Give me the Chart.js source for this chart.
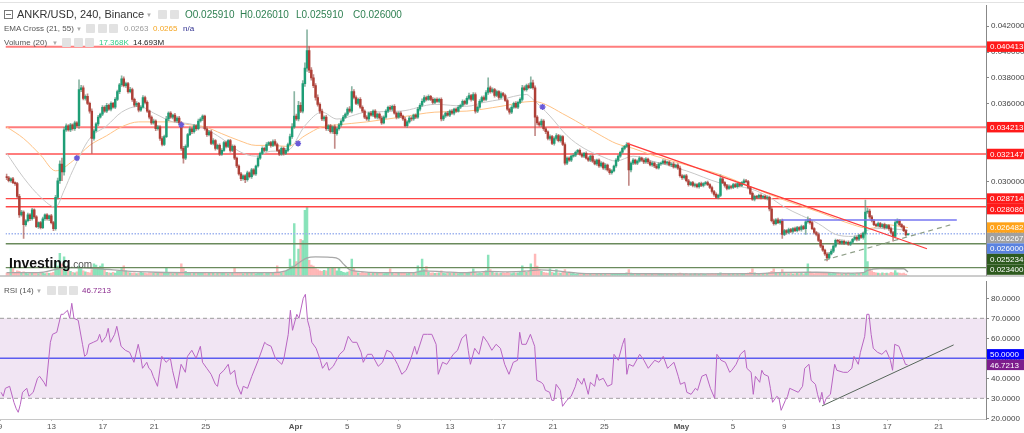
<!DOCTYPE html>
<html>
<head>
<meta charset="utf-8">
<script src="https://cdn.jsdelivr.net/npm/chart.js@4.4.0/dist/chart.umd.min.js"></script>
<style>
  body { margin: 0; background: #fff; width: 1024px; height: 433px; overflow: hidden; position: relative; font-family: "Liberation Sans", Arial, sans-serif; }
  canvas { position: absolute; left: 0; }
  #main { top: 0; }
  #rsi { top: 281px; }
  .t { position: absolute; white-space: nowrap; line-height: 1; z-index: 2; }
  .ic { position: absolute; width: 9px; height: 9px; background: #e2e2e2; border-radius: 1px; z-index: 2; }
  .car { position: absolute; font-size: 6px; color: #aaa; z-index: 2; line-height: 1; }
</style>
</head>
<body>
<canvas id="main" width="1024" height="281"></canvas>
<canvas id="rsi" width="1024" height="152"></canvas>

<!-- header lines -->
<div class="t" style="left:4px;top:10px;width:7px;height:7px;border:1px solid #777;"><div style="position:absolute;left:1px;top:3px;width:5px;height:1px;background:#777"></div></div>
<div class="t" style="left:17px;top:9px;font-size:11px;color:#333">ANKR/USD, 240, Binance</div>
<div class="car" style="left:146px;top:12px">▼</div>
<div class="ic" style="left:158px;top:10px"></div>
<div class="ic" style="left:170px;top:10px"></div>
<div class="t" style="left:185px;top:9.5px;font-size:10px;color:#2f8052">O0.025910</div>
<div class="t" style="left:240px;top:9.5px;font-size:10px;color:#2f8052">H0.026010</div>
<div class="t" style="left:296px;top:9.5px;font-size:10px;color:#2f8052">L0.025910</div>
<div class="t" style="left:353px;top:9.5px;font-size:10px;color:#2f8052">C0.026000</div>

<div class="t" style="left:4px;top:25px;font-size:8px;color:#555">EMA Cross (21, 55)</div>
<div class="car" style="left:76px;top:26px">▼</div>
<div class="ic" style="left:86px;top:24px"></div>
<div class="ic" style="left:97.5px;top:24px"></div>
<div class="ic" style="left:109px;top:24px"></div>
<div class="t" style="left:124px;top:25px;font-size:8px;color:#9a9a9a">0.0263</div>
<div class="t" style="left:153px;top:25px;font-size:8px;color:#f5a623">0.0265</div>
<div class="t" style="left:183px;top:25px;font-size:8px;color:#2e2e8f">n/a</div>

<div class="t" style="left:4px;top:38.5px;font-size:8px;color:#555">Volume (20)</div>
<div class="car" style="left:52px;top:39.5px">▼</div>
<div class="ic" style="left:62px;top:37.5px"></div>
<div class="ic" style="left:73.5px;top:37.5px"></div>
<div class="ic" style="left:85px;top:37.5px"></div>
<div class="t" style="left:99px;top:38.5px;font-size:8px;color:#33cc88">17.368K</div>
<div class="t" style="left:133px;top:38.5px;font-size:8px;color:#222">14.693M</div>

<div class="t" style="left:9px;top:256px;font-size:14px;font-weight:bold;color:#111">Investing<span style="font-size:10px;font-weight:normal;color:#555">.com</span></div>

<div class="t" style="left:4px;top:286.5px;font-size:8px;color:#555">RSI (14)</div>
<div class="car" style="left:36px;top:287.5px">▼</div>
<div class="ic" style="left:47px;top:285.5px"></div>
<div class="ic" style="left:58px;top:285.5px"></div>
<div class="ic" style="left:69px;top:285.5px"></div>
<div class="t" style="left:82px;top:286.5px;font-size:8px;color:#8b2c8f">46.7213</div>

<script>
// ---- data (prices in units of 0.00001) ----
const firstOpen = 3040;

const closes = [
  3032,3009,3024,2994,2987,2889,2746,2768,2671,2701,2746,2716,
  2784,2731,2656,2686,2648,2716,2746,2716,2738,2686,2640,2881,
  3009,3138,3077,3401,3432,3401,3439,3409,3454,3432,3710,3725,
  3643,3658,3605,3545,3334,3394,3447,3499,3522,3575,3545,3590,
  3560,3605,3575,3635,3695,3748,3793,3741,3756,3695,3710,3635,
  3590,3605,3552,3575,3650,3612,3545,3499,3454,3469,3409,3424,
  3334,3288,3349,3484,3530,3499,3514,3469,3492,3454,3258,3183,
  3273,3364,3409,3386,3432,3409,3469,3484,3507,3409,3364,3386,
  3296,3318,3258,3281,3213,3243,3303,3273,3318,3243,3273,3183,
  3122,3062,3024,3047,3017,3070,3040,3092,3062,3122,3183,3220,
  3258,3243,3288,3303,3281,3311,3288,3243,3213,3258,3220,3243,
  3288,3349,3424,3507,3484,3590,3545,3756,3876,4012,3861,3801,
  3741,3650,3597,3545,3484,3499,3409,3432,3386,3424,3371,3409,
  3439,3469,3499,3522,3560,3545,3695,3650,3605,3635,3575,3545,
  3499,3484,3530,3514,3545,3499,3522,3492,3454,3499,3545,3575,
  3560,3582,3530,3499,3530,3507,3484,3432,3462,3492,3484,3514,
  3499,3560,3590,3620,3650,3635,3658,3635,3612,3635,3620,3635,
  3484,3507,3530,3514,3545,3530,3560,3545,3575,3590,3620,3605,
  3643,3665,3635,3673,3545,3575,3620,3650,3635,3688,3725,3695,
  3710,3665,3695,3650,3680,3665,3627,3560,3537,3575,3605,3575,
  3612,3635,3725,3710,3741,3725,3763,3725,3499,3454,3439,3469,
  3409,3386,3334,3349,3296,3334,3356,3318,3349,3288,3145,3183,
  3168,3198,3205,3228,3243,3213,3198,3220,3183,3168,3198,3160,
  3138,3168,3122,3145,3107,3130,3092,3070,3085,3122,3168,3198,
  3228,3258,3273,3288,3092,3145,3168,3145,3160,3183,3168,3153,
  3175,3153,3130,3145,3122,3107,3138,3145,3160,3145,3153,3130,
  3138,3115,3130,3107,3047,3032,3047,3009,2979,2994,2972,2979,
  2964,2987,2972,2987,2994,2979,2957,2926,2904,2881,2896,3024,
  2994,2972,2949,2964,2957,2979,2964,2987,2972,2994,3009,3002,
  2957,2911,2866,2889,2881,2896,2881,2889,2874,2881,2791,2701,
  2678,2708,2686,2701,2595,2625,2610,2633,2618,2640,2625,2648,
  2633,2656,2640,2693,2708,2686,2640,2610,2595,2550,2505,2475,
  2445,2415,2445,2467,2505,2550,2543,2528,2543,2528,2535,2520,
  2535,2558,2573,2558,2588,2573,2603,2768,2776,2731,2701,2671,
  2663,2678,2656,2671,2648,2663,2640,2610,2580,2686,2701,2671,
  2656,2625,2591,2600
];

// upper / lower shadow lengths per candle
const wickHi = [
  20,10,8,12,6,10,15,12,10,8,14,10,
  12,8,10,6,10,12,8,10,6,12,10,15,
  20,25,45,20,15,10,12,8,14,10,76,18,
  15,12,20,10,18,12,10,14,8,12,10,15,
  10,12,8,15,12,10,23,15,12,10,18,12,
  10,14,8,12,15,10,12,8,10,14,8,12,
  10,15,12,20,10,12,8,14,10,12,10,15,
  12,10,14,8,12,10,15,12,10,8,14,10,
  12,15,8,10,12,14,10,12,8,10,12,10,
  8,10,12,8,10,14,8,12,10,8,15,10,
  12,10,14,8,10,12,15,10,8,12,10,14,
  10,20,25,188,15,30,20,25,40,158,30,20,
  25,15,20,12,15,10,14,10,12,8,15,10,
  12,10,14,10,12,20,38,15,12,10,14,10,
  10,12,8,14,10,12,8,10,14,10,12,8,
  12,10,14,8,10,12,8,14,10,12,10,8,
  10,14,12,20,15,10,12,8,15,10,12,10,
  12,10,8,14,10,12,8,10,14,10,12,10,
  14,18,10,15,12,10,14,10,12,15,76,12,
  14,10,12,8,14,10,12,10,8,12,10,14,
  10,12,18,14,12,15,45,20,15,12,10,14,
  10,12,8,14,10,12,15,10,12,8,12,10,
  10,8,12,10,8,12,10,8,12,10,8,10,
  12,8,10,12,8,10,8,12,10,8,12,10,
  10,12,8,15,12,10,12,8,10,12,8,10,
  12,8,10,12,8,14,10,8,12,10,8,10,
  10,12,8,10,14,10,8,12,10,8,10,12,
  8,10,12,8,10,12,8,10,8,12,10,31,
  12,8,10,12,8,10,12,8,10,8,12,10,
  10,8,12,10,8,10,12,8,10,12,10,14,
  12,10,14,10,12,10,8,12,10,8,12,10,
  8,12,10,15,23,12,10,8,10,12,8,10,
  8,10,12,15,12,10,8,12,10,8,10,12,
  10,8,12,10,8,12,10,91,25,15,12,10,
  8,12,10,8,12,10,8,12,10,20,15,10,
  8,10,8,1
];
const wickLo = [
  15,10,12,8,14,12,20,10,106,12,10,14,
  10,12,8,14,10,8,12,10,14,10,15,12,
  15,20,68,25,12,10,14,10,12,8,20,15,
  12,14,10,15,114,12,10,14,8,12,10,12,
  10,14,8,12,10,15,12,10,14,12,10,15,
  12,10,14,10,8,12,10,14,12,10,14,10,
  15,12,10,8,12,10,14,8,12,10,15,38,
  12,10,8,14,10,12,8,10,12,10,14,10,
  10,12,14,8,12,10,8,12,10,14,10,12,
  12,10,14,10,23,12,10,14,10,12,8,10,
  10,12,8,10,14,10,12,8,12,10,14,10,
  12,10,14,12,10,15,12,14,20,25,20,18,
  15,20,14,18,12,15,12,14,10,12,113,12,
  10,12,8,10,12,10,14,12,10,14,10,12,
  12,10,14,8,12,10,14,10,12,8,10,12,
  10,12,8,14,10,12,10,8,12,10,14,10,
  12,10,14,8,10,12,8,10,12,10,8,12,
  15,12,10,8,12,10,14,10,8,12,10,12,
  10,12,14,10,15,12,10,8,12,10,14,12,
  10,12,8,14,10,12,8,10,15,12,10,8,
  12,10,14,10,12,10,8,12,143,15,12,14,
  12,14,10,12,10,14,12,10,12,10,15,12,
  10,12,8,10,12,8,10,12,8,10,12,10,
  8,12,10,8,12,15,10,12,10,8,10,12,
  10,8,12,10,120,15,12,10,12,8,10,12,
  10,12,8,10,12,8,10,12,8,10,12,8,
  12,10,8,12,10,14,12,10,12,8,10,12,
  10,12,8,10,12,8,10,12,14,10,12,10,
  8,12,10,8,12,10,8,12,10,8,12,10,
  12,10,8,12,10,8,12,10,8,12,14,10,
  12,10,8,12,30,10,12,8,10,12,8,10,
  10,12,8,45,10,12,8,10,12,10,12,10,
  12,23,10,8,12,10,12,8,10,12,8,10,
  12,10,8,12,10,8,14,12,10,12,10,8,
  10,12,8,10,12,10,14,10,37,12,10,8,
  10,8,10,0
];

// volume per candle, millions
const volumes = [
  10,12,34,30,14,20,18,12,16,10,8,12,
  9,12,10,8,14,10,8,12,9,10,14,60,
  40,95,50,80,30,25,18,14,12,16,40,30,
  20,16,14,12,25,50,45,30,40,50,22,14,
  12,10,14,10,18,22,30,42,20,14,12,10,
  12,8,10,14,12,10,8,12,10,9,14,10,
  12,14,10,34,12,10,8,12,10,14,50,30,
  18,12,10,8,12,10,14,9,10,12,8,10,
  14,10,8,12,10,9,12,10,8,10,12,34,
  14,10,12,8,10,14,9,10,12,8,10,12,
  10,8,12,14,10,9,12,42,10,12,14,18,
  25,71,40,223,60,113,155,150,280,295,65,45,
  40,30,25,20,18,22,20,34,30,34,34,20,
  34,18,14,12,15,20,71,30,18,12,10,14,
  10,9,12,8,10,14,9,10,12,8,10,12,
  29,10,8,12,10,9,14,10,8,12,10,14,
  12,42,20,71,25,38,14,10,12,9,10,12,
  20,10,8,12,10,9,12,10,8,10,14,9,
  12,10,14,29,10,8,12,10,14,20,88,25,
  14,10,12,8,10,12,9,14,10,8,12,10,
  12,14,42,20,14,18,50,30,92,40,25,18,
  14,12,10,29,14,10,25,12,10,14,25,12,
  10,8,9,6,8,7,6,8,5,7,6,8,
  6,7,5,8,6,7,6,5,8,6,7,6,
  8,7,9,12,25,10,8,7,6,8,7,6,
  7,6,8,5,7,6,8,6,5,7,6,8,
  6,7,5,8,10,7,6,8,5,7,6,8,
  7,6,8,6,5,7,6,8,6,7,8,12,
  7,8,6,7,5,8,6,7,6,8,7,6,
  10,14,29,12,8,7,9,8,6,10,14,18,
  29,14,10,12,25,12,10,8,9,7,8,10,
  8,9,7,14,50,16,10,8,9,12,10,14,
  12,14,10,8,12,9,10,8,7,9,8,10,
  8,9,7,10,9,12,14,180,60,30,20,14,
  12,10,8,12,9,10,8,14,12,21,12,10,
  8,10,6,0.017
];

// volume MA(20): [candle, millions]
const volMaPoints = [
  [0,12],[15,12],[25,30],[30,34],[45,28],[55,20],[70,14],[90,12],[110,12],[125,12],
  [131,20],[135,40],[138,60],[141,76],[145,80],[152,78],[156,70],[158,50],[161,25],[165,18],
  [175,12],[190,12],[196,20],[205,16],[215,12],[226,18],[235,16],[245,20],[250,24],[258,20],
  [264,14],[272,8],[290,8],[320,7],[350,8],[365,13],[380,14],[395,10],[402,12],[404,22],
  [410,30],[421,29],[423,14.693]
];

// EMA lines: [candle, price*1e5]
const emaFastPoints = [
  [0,3221],[8,3032],[16,2882],[23,2806],[27,2934],[31,3085],[39,3334],[47,3432],[54,3537],[62,3582],
  [70,3522],[78,3462],[86,3447],[93,3409],[101,3334],[109,3236],[117,3198],[124,3236],[132,3243],[140,3432],
  [148,3537],[155,3484],[169,3537],[185,3545],[201,3597],[216,3582],[224,3612],[232,3635],[244,3673],[247,3635],
  [255,3507],[263,3356],[271,3258],[279,3198],[286,3160],[294,3198],[303,3160],[319,3085],[335,2990],[350,2942],
  [358,2882],[365,2806],[381,2678],[389,2596],[397,2580],[405,2633],[412,2641],[423,2627]
];
const emaSlowPoints = [
  [0,3424],[8,3334],[16,3206],[23,3085],[31,3160],[39,3281],[47,3356],[54,3424],[62,3462],[70,3462],
  [78,3462],[86,3439],[93,3424],[101,3371],[109,3319],[117,3281],[124,3281],[132,3273],[140,3356],[148,3424],
  [155,3439],[169,3462],[185,3499],[201,3537],[216,3545],[232,3582],[247,3620],[263,3507],[271,3432],[279,3356],
  [286,3296],[294,3258],[303,3206],[319,3130],[335,3055],[350,2957],[365,2859],[381,2769],[397,2671],[405,2641],
  [412,2671],[423,2648]
];

// EMA cross markers: [candle, price*1e5]
const crossPoints = [[33,3183],[82,3439],[136.8,3296],[251.5,3577]];

// RSI(14): [candle, value]
const rsiPoints = [
  [0,33],[1,31],[2,35],[4,36],[6,28],[7,25],[8,23],[9,27],[10,33],[12,35],[13,31],[15,33],[17,40],[18,41],
  [20,38],[21,36],[23,58],[24,62],[26,63],[28,72],[29,72],[31,74],[32,70],[33,77.5],[34,70],[36,69],[38,57],
  [39,51],[40,52],[41,57],[43,58],[45,59],[46,62],[47,58],[49,61],[50,65],[51,58],[53,62],[54,66],[56,56],
  [58,54],[60,53],[62,48],[64,57],[65,52],[66,45],[68,48],[69,45],[70,44],[71,41],[73,36],[75,51],[77,48],
  [79,50],[80,44],[82,35],[84,47],[86,43],[87,51],[89,54],[91,50],[93,56],[94,48],[96,45],[98,42],[100,37],
  [101,36],[102,42],[104,44],[106,47],[107,42],[109,44],[110,37],[112,32],[113,36],[115,35],[117,41],[120,49],
  [123,58],[124,57],[126,56],[128,50],[131,47],[132,50],[134,62],[135,74],[136,64],[138,72],[139,70],[141,80],
  [142,82],[143,69],[144,65],[145,58],[147,55],[149,49],[150,45],[152,48],[153,44],[155,46],[156,48],[158,52],
  [160,54],[162,61],[164,58],[166,58],[168,53],[169,48],[171,52],[173,52],[176,46],[178,48],[180,54],[182,53],
  [185,47],[187,42],[189,44],[191,49],[193,56],[194,52],[197,62],[199,62],[201,62],[203,57],[204,42],[206,48],
  [208,47],[211,52],[213,54],[215,60],[217,62],[218,54],[219,47],[221,55],[223,52],[225,61],[227,58],[229,54],
  [231,57],[233,55],[235,47],[237,42],[239,48],[241,49],[242,63],[243,57],[245,57],[247,62],[248,59],[249,56],
  [250,39],[252,38],[253,37],[254,34],[256,33],[257,29],[258,29],[259,37],[261,34],[262,26],[264,29],[266,31],
  [268,36],[269,40],[271,37],[272,40],[274,32],[275,38],[277,36],[278,42],[279,39],[281,40],[283,36],[285,37],
  [286,52],[288,49],[290,57],[291,60],[292,42],[293,47],[295,46],[298,52],[300,49],[302,45],[305,49],[307,48],
  [309,51],[311,45],[312,46],[314,48],[316,41],[317,37],[319,38],[320,33],[322,32],[324,35],[325,34],[327,41],
  [329,42],[331,35],[333,30],[334,52],[336,49],[338,48],[340,43],[341,44],[343,47],[345,52],[347,54],[348,45],
  [350,43],[351,32],[352,41],[354,38],[355,44],[356,42],[358,41],[359,35],[360,28],[362,31],[363,30],[364,24],
  [366,29],[367,31],[368,35],[370,34],[372,33],[374,36],[375,45],[377,47],[378,39],[380,37],[381,32],[382,28],
  [383,33],[384,27],[385,30],[387,32],[389,47],[390,44],[393,43],[395,43],[397,45],[398,51],[400,47],[401,53],
  [403,61],[404,72],[405,72],[406,62],[407,55],[409,53],[411,52],[412,53],[413,54],[415,49],[416,44],[417,57],
  [419,56],[420,53],[422,47],[423,46.7213]
];

// horizontal levels
const redLevelsSoft = [0.040413, 0.034213, 0.032147];
const redLevelsHard = [0.028714, 0.028086];
const greenLevels = [0.025234, 0.023400];
const lastPrice = 0.026000;
const emaSlowLast = 0.026482;
const emaFastLast = 0.026267;
const rsiLast = 46.7213;

// drawn lines: [candle, price]
const resistLine = [[291.2, 0.03296], [431.9, 0.02485]];
const supportLine = [[383.7, 0.02397], [442.8, 0.026685]];
const blueLine = [[363.5, 0.02706], [445.9, 0.02706]];
const rsiTrend = [[383.1, 26.2], [444.5, 56.7]];

// axis ticks
const priceTicks = [0.024, 0.026, 0.028, 0.030, 0.032, 0.034, 0.036, 0.038, 0.040, 0.042];
const rsiTicks = [20, 30, 40, 50, 60, 70, 80];
const tickDays = [0, 4, 8, 12, 16, 23, 27, 31, 35, 39, 43, 47, 53, 57, 61, 65, 69, 73];
const tickLabels = ['9', '13', '17', '21', '25', 'Apr', '5', '9', '13', '17', '21', '25', 'May', '5', '9', '13', '17', '21'];

// ---- chart ----
const FONT = '"Liberation Sans", Arial, sans-serif';
Chart.defaults.font.family = FONT;
Chart.defaults.animation = false;

const P = v => v / 1e5;
const X_MIN = -0.5, X_MAX = 459.6;
const AXIS_W = 38;

const opens = closes.map((c, i) => i === 0 ? firstOpen : closes[i - 1]);
const up = closes.map((c, i) => c >= opens[i]);

const bodyData = closes.map((c, i) => ({ x: i, y: [P(opens[i]), P(c)] }));
const wickData = closes.map((c, i) => ({
  x: i,
  y: [P(Math.min(opens[i], c) - (wickLo[i] || 0)), P(Math.max(opens[i], c) + (wickHi[i] || 0))]
}));
const volData = volumes.map((v, i) => ({ x: i, y: v }));

function hline(v, color, width, dash, order, axis) {
  return {
    type: 'line', data: [{ x: X_MIN, y: v }, { x: X_MAX, y: v }],
    borderColor: color, borderWidth: width, borderDash: dash || [],
    pointRadius: 0, order: order, yAxisID: axis || 'y'
  };
}
function pline(points, color, width, dash, order, conv, axis) {
  const f = conv || (v => v);
  return {
    type: 'line', data: points.map(p => ({ x: p[0], y: f(p[1]) })),
    borderColor: color, borderWidth: width, borderDash: dash || [],
    pointRadius: 0, order: order, yAxisID: axis || 'y',
    cubicInterpolationMode: 'monotone'
  };
}

function fixY(s) { s.width = AXIS_W; s.paddingTop = 0; s.paddingBottom = 0; }

function tagPlugin(id, tags, digits, dir, extra) {
  return {
    id: id,
    afterDraw(chart) {
      const { ctx, chartArea } = chart;
      const ys = chart.scales.y;
      const h = 10.5;
      if (extra) extra(chart);
      const items = tags.map(t => ({ ...t, py: ys.getPixelForValue(t.value) }));
      items.sort((a, b) => a.py - b.py);
      if (dir > 0) {
        for (let i = 1; i < items.length; i++) items[i].py = Math.max(items[i].py, items[i - 1].py + h);
      } else {
        for (let i = items.length - 2; i >= 0; i--) items[i].py = Math.min(items[i].py, items[i + 1].py - h);
      }
      ctx.save();
      ctx.font = '8px ' + FONT;
      ctx.textBaseline = 'middle';
      items.forEach(t => {
        ctx.fillStyle = t.color;
        ctx.fillRect(chartArea.right + 1, t.py - h / 2, chart.width - chartArea.right - 1, h);
        ctx.fillStyle = '#fff';
        ctx.fillText(t.value.toFixed(digits), chartArea.right + 4, t.py + 0.5);
      });
      ctx.restore();
    }
  };
}

const mainTags = [
  ...redLevelsSoft.map(v => ({ value: v, color: '#ff1a1a' })),
  ...redLevelsHard.map(v => ({ value: v, color: '#ff1a1a' })),
  { value: emaSlowLast, color: '#ffa31a' },
  { value: emaFastLast, color: '#a0a0a0' },
  { value: lastPrice, color: '#5a82e0' },
  ...greenLevels.map(v => ({ value: v, color: '#2d5a1e' }))
];

new Chart(document.getElementById('main'), {
  type: 'bar',
  data: {
    datasets: [
      pline(resistLine, '#ff3b3b', 1.2, [], 0),
      pline(supportLine, '#8f9f88', 1.2, [5, 4], 0),
      pline(blueLine, '#7676f2', 1.5, [], 0),
      {
        type: 'line', data: crossPoints.map(p => ({ x: p[0], y: P(p[1]) })), showLine: false,
        pointStyle: 'star', pointRadius: 3, borderColor: '#6a5ad8', backgroundColor: '#6a5ad8',
        pointBorderWidth: 1.5, order: 0, yAxisID: 'y'
      },
      {
        type: 'bar', data: bodyData, grouped: false, barThickness: 1.8, minBarLength: 0.8,
        backgroundColor: up.map(u => u ? '#1e9e76' : '#ae3f36'), borderWidth: 0, borderSkipped: false,
        order: 1, yAxisID: 'y'
      },
      {
        type: 'bar', data: wickData, grouped: false, barThickness: 1,
        backgroundColor: up.map(u => u ? 'rgba(90,150,125,0.7)' : 'rgba(170,90,85,0.7)'), borderWidth: 0, borderSkipped: false,
        order: 2, yAxisID: 'y'
      },
      pline(emaFastPoints, '#c8c8c8', 1, [], 3, P),
      pline(emaSlowPoints, '#ffc285', 1, [], 3, P),
      ...redLevelsSoft.map(v => hline(v, 'rgba(255,70,70,0.7)', 2, [], 4)),
      ...redLevelsHard.map(v => hline(v, '#ff4545', 1.3, [], 4)),
      ...greenLevels.map(v => hline(v, '#6a8a5c', 1.3, [], 4)),
      hline(lastPrice, '#9fb4ef', 1.5, [1.5, 1.5], 4),
      pline(volMaPoints, '#a8a8a8', 1.3, [], 5, null, 'yv'),
      {
        type: 'bar', data: volData, grouped: false, barThickness: 1.8,
        backgroundColor: up.map(u => u ? 'rgba(110,220,170,0.8)' : 'rgba(255,160,160,0.75)'), borderWidth: 0,
        order: 6, yAxisID: 'yv'
      }
    ]
  },
  options: {
    responsive: false, devicePixelRatio: 1, events: [],
    layout: { padding: { top: 4, bottom: 1, left: 0, right: 0 } },
    plugins: { legend: { display: false }, tooltip: { enabled: false } },
    scales: {
      x: { type: 'linear', min: X_MIN, max: X_MAX, offset: false, display: false, grid: { offset: false } },
      y: {
        position: 'right', min: 0.042 - 255 / 13275, max: 0.042 + 21 / 13275,
        afterFit: fixY,
        afterBuildTicks: s => { s.ticks = priceTicks.map(v => ({ value: v })); },
        ticks: { font: { size: 8 }, color: '#444', padding: 2, callback: v => v.toFixed(6) },
        grid: { drawOnChartArea: false, tickLength: 3, color: '#888' },
        border: { color: '#888' }
      },
      yv: { display: false, min: 0, max: 1160 }
    }
  },
  plugins: [tagPlugin('mainTags', mainTags, 6, 1, chart => {
    const { ctx, chartArea } = chart;
    ctx.save();
    ctx.strokeStyle = '#9a9a9a';
    ctx.lineWidth = 1;
    ctx.beginPath();
    ctx.moveTo(0, chartArea.bottom + 0.5);
    ctx.lineTo(chart.width, chartArea.bottom + 0.5);
    ctx.stroke();
    ctx.strokeStyle = '#e2e2e2';
    ctx.beginPath();
    ctx.moveTo(0, 2.5);
    ctx.lineTo(chart.width, 2.5);
    ctx.stroke();
    ctx.restore();
  })]
});

const rsiTags = [
  { value: 50, color: '#0000ff' },
  { value: rsiLast, color: '#7d1d8c' }
];

new Chart(document.getElementById('rsi'), {
  type: 'line',
  data: {
    datasets: [
      pline(rsiTrend, '#56665a', 1, [], 0),
      {
        type: 'line', data: rsiPoints.map(p => ({ x: p[0], y: p[1] })),
        borderColor: '#b865c2', borderWidth: 1, pointRadius: 0, tension: 0, order: 1
      },
      hline(50, '#5c5cf0', 1.5, [], 2),
      Object.assign(hline(70, '#9c9c9c', 1, [4, 3], 3), { fill: '+1', backgroundColor: 'rgba(215,180,220,0.35)' }),
      hline(30, '#9c9c9c', 1, [4, 3], 3)
    ]
  },
  options: {
    responsive: false, devicePixelRatio: 1, events: [],
    layout: { padding: 0 },
    plugins: { legend: { display: false }, tooltip: { enabled: false } },
    scales: {
      x: {
        type: 'linear', min: X_MIN, max: X_MAX,
        afterFit: s => { s.height = 14; s.paddingLeft = 0; s.paddingRight = 0; },
        afterBuildTicks: s => { s.ticks = tickDays.map(d => ({ value: d * 6 - 0.5 })); },
        ticks: {
          autoSkip: false, maxRotation: 0, padding: 1, color: '#555',
          font: c => ({ size: 8, weight: /[A-Z]/.test(tickLabels[c.index] || '') ? 'bold' : 'normal' }),
          callback: (v, i) => tickLabels[i]
        },
        grid: { drawOnChartArea: false, tickLength: 2, color: '#bbb' },
        border: { color: '#c8c8c8' }
      },
      y: {
        position: 'right', min: 19.65, max: 88.65,
        afterFit: fixY,
        afterBuildTicks: s => { s.ticks = rsiTicks.map(v => ({ value: v })); },
        ticks: { font: { size: 8 }, color: '#444', padding: 2, callback: v => v.toFixed(4) },
        grid: { drawOnChartArea: false, tickLength: 3, color: '#888' },
        border: { color: '#888' }
      }
    }
  },
  plugins: [tagPlugin('rsiTags', rsiTags, 4, -1)]
});
</script>
</body>
</html>
